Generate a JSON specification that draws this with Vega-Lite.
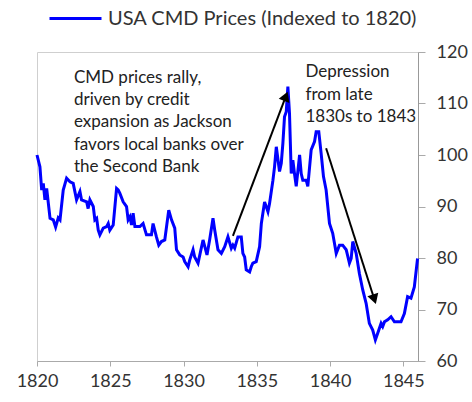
{
  "$schema": "https://vega.github.io/schema/vega-lite/v6.json",
  "width": 381,
  "height": 309,
  "autosize": {"type": "none"},
  "padding": {"left": 37, "top": 52, "right": 54, "bottom": 41},
  "background": "white",
  "config": {
    "view": {"stroke": "#cfcfcf", "strokeWidth": 1},
    "font": "Lato",
    "axis": {"labelFont": "Lato", "labelColor": "#333333", "grid": false, "title": null}
  },
  "datasets": {
    "prices": [
      {"year": 1820.0, "value": 100.0}, {"year": 1820.2, "value": 97.7}, {"year": 1820.32, "value": 93.2},
      {"year": 1820.43, "value": 94.5}, {"year": 1820.54, "value": 91.3}, {"year": 1820.66, "value": 93.5},
      {"year": 1820.89, "value": 87.7}, {"year": 1821.11, "value": 87.4}, {"year": 1821.27, "value": 86.0},
      {"year": 1821.45, "value": 87.8}, {"year": 1821.57, "value": 87.4}, {"year": 1821.79, "value": 93.2},
      {"year": 1822.02, "value": 95.5}, {"year": 1822.25, "value": 94.8}, {"year": 1822.47, "value": 94.5},
      {"year": 1822.7, "value": 91.3}, {"year": 1822.93, "value": 92.9}, {"year": 1823.04, "value": 91.3},
      {"year": 1823.39, "value": 90.9}, {"year": 1823.49, "value": 89.6}, {"year": 1823.61, "value": 91.3},
      {"year": 1823.84, "value": 90.0}, {"year": 1823.95, "value": 87.4}, {"year": 1824.07, "value": 87.7},
      {"year": 1824.18, "value": 85.4}, {"year": 1824.29, "value": 84.5}, {"year": 1824.52, "value": 85.8},
      {"year": 1824.75, "value": 86.1}, {"year": 1824.86, "value": 86.7}, {"year": 1824.97, "value": 85.4},
      {"year": 1825.2, "value": 86.4}, {"year": 1825.43, "value": 93.5}, {"year": 1825.54, "value": 93.2},
      {"year": 1825.65, "value": 92.6}, {"year": 1825.88, "value": 90.9}, {"year": 1826.11, "value": 90.0},
      {"year": 1826.22, "value": 87.4}, {"year": 1826.34, "value": 88.0}, {"year": 1826.45, "value": 86.4},
      {"year": 1826.56, "value": 88.7}, {"year": 1826.68, "value": 86.1}, {"year": 1827.02, "value": 86.1},
      {"year": 1827.24, "value": 86.7}, {"year": 1827.47, "value": 84.5}, {"year": 1827.81, "value": 84.5},
      {"year": 1827.92, "value": 86.7}, {"year": 1828.15, "value": 84.1}, {"year": 1828.31, "value": 82.5},
      {"year": 1828.49, "value": 83.2}, {"year": 1828.72, "value": 83.5}, {"year": 1828.99, "value": 89.3},
      {"year": 1829.18, "value": 87.4}, {"year": 1829.4, "value": 85.8}, {"year": 1829.52, "value": 81.6},
      {"year": 1829.74, "value": 80.6}, {"year": 1829.97, "value": 80.2}, {"year": 1830.08, "value": 79.3},
      {"year": 1830.31, "value": 78.3}, {"year": 1830.42, "value": 79.6}, {"year": 1830.65, "value": 81.6},
      {"year": 1830.76, "value": 80.2}, {"year": 1830.99, "value": 79.0}, {"year": 1831.33, "value": 83.5},
      {"year": 1831.6, "value": 80.6}, {"year": 1831.78, "value": 83.5}, {"year": 1832.01, "value": 87.7},
      {"year": 1832.13, "value": 85.4}, {"year": 1832.35, "value": 81.6}, {"year": 1832.58, "value": 80.9},
      {"year": 1832.81, "value": 82.2}, {"year": 1833.03, "value": 84.1}, {"year": 1833.26, "value": 81.9},
      {"year": 1833.37, "value": 82.5}, {"year": 1833.49, "value": 81.9}, {"year": 1833.71, "value": 84.1},
      {"year": 1833.94, "value": 84.1}, {"year": 1834.05, "value": 80.9}, {"year": 1834.17, "value": 80.2},
      {"year": 1834.28, "value": 77.7}, {"year": 1834.51, "value": 77.3}, {"year": 1834.62, "value": 78.3},
      {"year": 1834.73, "value": 79.0}, {"year": 1834.96, "value": 79.3}, {"year": 1835.19, "value": 82.2},
      {"year": 1835.31, "value": 86.7}, {"year": 1835.53, "value": 90.9}, {"year": 1835.76, "value": 89.0},
      {"year": 1835.87, "value": 90.6}, {"year": 1836.1, "value": 95.1}, {"year": 1836.21, "value": 97.7},
      {"year": 1836.33, "value": 101.6}, {"year": 1836.55, "value": 96.8}, {"year": 1836.67, "value": 98.4},
      {"year": 1836.78, "value": 102.3}, {"year": 1836.89, "value": 107.4}, {"year": 1837.01, "value": 108.4},
      {"year": 1837.12, "value": 113.3}, {"year": 1837.23, "value": 108.1}, {"year": 1837.35, "value": 96.4},
      {"year": 1837.46, "value": 99.0}, {"year": 1837.57, "value": 96.4}, {"year": 1837.69, "value": 93.9},
      {"year": 1837.92, "value": 100.0}, {"year": 1838.03, "value": 96.4}, {"year": 1838.14, "value": 95.1},
      {"year": 1838.37, "value": 95.1}, {"year": 1838.48, "value": 93.9}, {"year": 1838.71, "value": 101.0},
      {"year": 1838.94, "value": 102.6}, {"year": 1839.05, "value": 104.5}, {"year": 1839.23, "value": 104.5},
      {"year": 1839.39, "value": 100.3}, {"year": 1839.55, "value": 95.8}, {"year": 1839.73, "value": 93.2},
      {"year": 1839.96, "value": 86.7}, {"year": 1840.18, "value": 84.8}, {"year": 1840.42, "value": 80.9},
      {"year": 1840.64, "value": 82.5}, {"year": 1840.86, "value": 82.5}, {"year": 1841.1, "value": 81.6},
      {"year": 1841.32, "value": 79.0}, {"year": 1841.44, "value": 79.9}, {"year": 1841.55, "value": 83.2},
      {"year": 1841.78, "value": 80.9}, {"year": 1842.0, "value": 77.0}, {"year": 1842.23, "value": 73.8},
      {"year": 1842.46, "value": 71.2}, {"year": 1842.68, "value": 67.3}, {"year": 1842.91, "value": 66.0},
      {"year": 1843.09, "value": 64.1}, {"year": 1843.25, "value": 65.4}, {"year": 1843.48, "value": 67.3},
      {"year": 1843.59, "value": 66.7}, {"year": 1843.71, "value": 67.6}, {"year": 1843.93, "value": 68.0},
      {"year": 1844.16, "value": 68.6}, {"year": 1844.39, "value": 67.6}, {"year": 1844.84, "value": 67.6},
      {"year": 1845.07, "value": 69.2}, {"year": 1845.29, "value": 72.5}, {"year": 1845.52, "value": 72.2},
      {"year": 1845.75, "value": 74.4}, {"year": 1845.97, "value": 79.9}
    ],
    "arrows": [
      {"x": 1833.37, "y": 84.3, "x2": 1836.98, "y2": 111.4},
      {"x": 1839.73, "y": 101.3, "x2": 1843.02, "y2": 71.98}
    ],
    "notes": [
      {"x": 1822.52, "y": 114.0, "text": ["CMD prices rally,", "driven by credit", "expansion as Jackson", "favors local banks over", "the Second Bank"]},
      {"x": 1838.32, "y": 115.1, "text": ["Depression", "from late", "1830s to 1843"]}
    ]
  },
  "layer": [
    {
      "data": {"name": "prices"},
      "mark": {"type": "line", "strokeWidth": 3, "interpolate": "linear"},
      "encoding": {
        "x": {
          "field": "year", "type": "quantitative",
          "scale": {"domain": [1820, 1846], "nice": false, "zero": false},
          "axis": {"orient": "bottom", "values": [1820, 1825, 1830, 1835, 1840, 1845], "format": "d",
                   "tickSize": 5, "tickColor": "#aaaaaa", "domainColor": "#aaaaaa",
                   "labelFontSize": 18, "labelPadding": 6, "labelFlush": false}
        },
        "y": {
          "field": "value", "type": "quantitative",
          "scale": {"domain": [60, 120], "nice": false, "zero": false},
          "axis": {"orient": "right", "values": [60, 70, 80, 90, 100, 110, 120],
                   "tickSize": 7, "tickColor": "#aaaaaa", "domainColor": "#999999",
                   "labelFontSize": 18, "labelPadding": 11, "labelFlush": false}
        },
        "color": {
          "datum": "USA CMD Prices (Indexed to 1820)",
          "scale": {"range": ["#0000ff"]},
          "legend": {
            "orient": "none", "legendX": 11, "legendY": -61, "title": null,
            "symbolType": "stroke", "symbolSize": 2704, "symbolStrokeWidth": 3,
            "labelFontSize": 20, "labelColor": "#333333", "labelOffset": 5, "padding": 0,
            "labelLimit": 400
          }
        }
      }
    },
    {
      "data": {"name": "arrows"},
      "mark": {"type": "rule", "color": "black", "strokeWidth": 2},
      "encoding": {
        "x": {"field": "x", "type": "quantitative"},
        "y": {"field": "y", "type": "quantitative"},
        "x2": {"field": "x2"},
        "y2": {"field": "y2"}
      }
    },
    {
      "data": {"values": [{"x": 1836.98, "y": 111.4}]},
      "mark": {"type": "point", "shape": "triangle-up", "filled": true, "color": "black", "size": 130, "angle": 21, "opacity": 1},
      "encoding": {
        "x": {"field": "x", "type": "quantitative"},
        "y": {"field": "y", "type": "quantitative"}
      }
    },
    {
      "data": {"values": [{"x": 1843.02, "y": 71.98}]},
      "mark": {"type": "point", "shape": "triangle-up", "filled": true, "color": "black", "size": 130, "angle": 162, "opacity": 1},
      "encoding": {
        "x": {"field": "x", "type": "quantitative"},
        "y": {"field": "y", "type": "quantitative"}
      }
    },
    {
      "data": {"name": "notes"},
      "mark": {"type": "text", "align": "left", "baseline": "alphabetic", "fontSize": 17, "lineHeight": 22.3, "color": "#222222", "font": "Lato"},
      "encoding": {
        "x": {"field": "x", "type": "quantitative"},
        "y": {"field": "y", "type": "quantitative"},
        "text": {"field": "text"}
      }
    }
  ]
}
